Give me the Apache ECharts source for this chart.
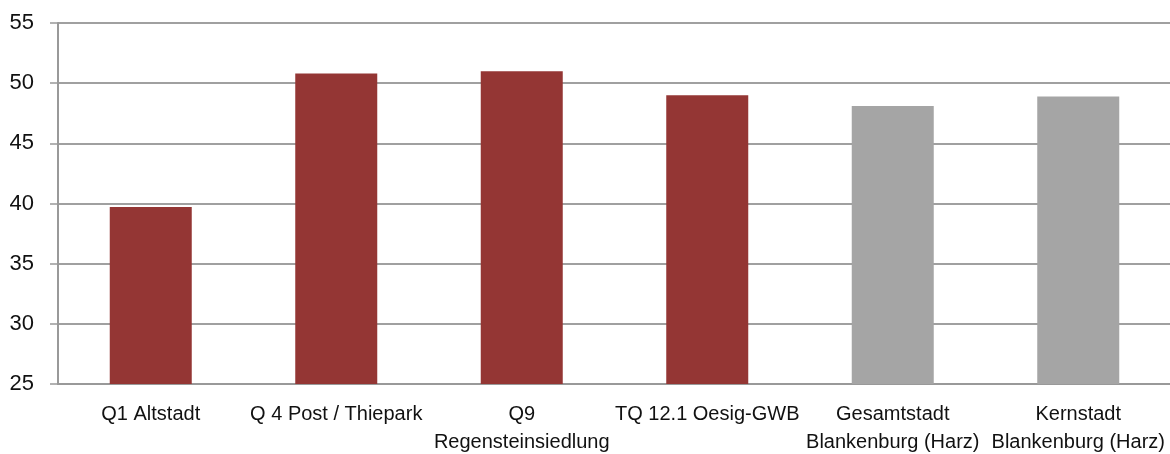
<!DOCTYPE html>
<html>
<head>
<meta charset="utf-8">
<script src="https://cdn.jsdelivr.net/npm/echarts@6/dist/echarts.min.js"></script>
<style>
  html, body { margin: 0; padding: 0; background: #fff; }
  #main { width: 1170px; height: 454px; }
</style>
</head>
<body>
<div id="main"></div>
<script>
// Daten
let categories = ['Q1 Altstadt', 'Q 4 Post / Thiepark', 'Q9\nRegensteinsiedlung', 'TQ 12.1 Oesig-GWB', 'Gesamtstadt\nBlankenburg (Harz)', 'Kernstadt\nBlankenburg (Harz)'];
let values = [39.7, 50.8, 51.0, 49.0, 48.1, 48.9];
let barColors = ['#943634', '#943634', '#943634', '#943634', '#a5a5a5', '#a5a5a5'];

let font = '"Liberation Sans", Arial, sans-serif';

let container = document.querySelector('#main');
let chart = echarts.init(container);

chart.setOption({
  animation: false,
  grid: {
    left: 58,
    right: -1,
    top: 23,
    bottom: 70,
    outerBoundsMode: 'none'
  },
  xAxis: {
    type: 'category',
    data: categories,
    axisLine: { lineStyle: { color: '#999', width: 2 } },
    axisTick: { length: 8, lineStyle: { color: '#999', width: 1.5 } },
    axisLabel: {
      interval: 0,
      color: '#111',
      fontFamily: font,
      fontSize: 20,
      lineHeight: 28,
      margin: 16
    }
  },
  yAxis: {
    type: 'value',
    min: 25,
    max: 55,
    interval: 5,
    axisLine: { show: true, lineStyle: { color: '#999', width: 2 } },
    axisTick: { show: true, length: 8, lineStyle: { color: '#999', width: 1.5 } },
    splitLine: { lineStyle: { color: '#a0a0a0', width: 2 } },
    axisLabel: {
      color: '#111',
      fontFamily: font,
      fontSize: 22,
      margin: 24
    }
  },
  series: [{
    type: 'bar',
    barWidth: 82,
    data: values.map((v, i) => ({ value: v, itemStyle: { color: barColors[i] } }))
  }]
});
</script>
</body>
</html>
